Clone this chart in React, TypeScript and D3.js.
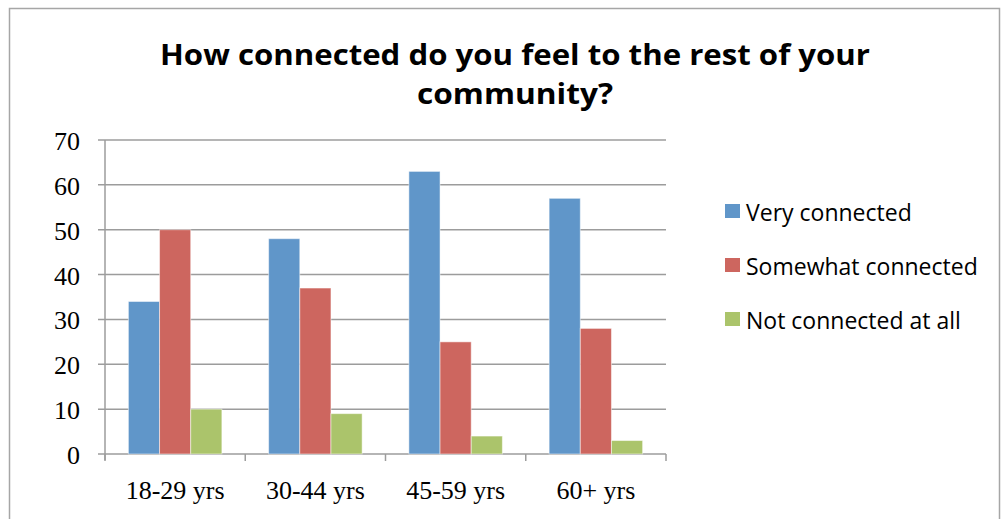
import React from "react";
import * as d3 from "d3";

const categories = ["18-29 yrs", "30-44 yrs", "45-59 yrs", "60+ yrs"];
const seriesNames = ["Very connected", "Somewhat connected", "Not connected at all"];
const veryConnected = [34, 48, 63, 57];
const somewhatConnected = [50, 37, 25, 28];
const notConnected = [10, 9, 4, 3];
const yTicks = [0, 10, 20, 30, 40, 50, 60, 70];
const titleLines = ["How connected do you feel to the rest of your", "community?"];

const seriesValues = [veryConnected, somewhatConnected, notConnected];
const colors = ["#6096c9", "#cd665f", "#abc46b"];

export default function App() {
  const W = 1003, H = 519;
  const left = 105, right = 666, top = 140, bottom = 454;
  const x0 = d3.scaleBand<string>().domain(categories).range([left, right]).paddingInner(0).paddingOuter(0);
  const bw = x0.bandwidth();
  const x1 = d3.scaleBand<string>().domain(seriesNames).range([bw * 0.75 / 4.5, bw - bw * 0.75 / 4.5]).padding(0);
  const y = d3.scaleLinear().domain([0, 70]).range([bottom, top]);
  const gridColor = "#9c9c9c";
  const boundaries = [...categories.map((c) => x0(c) as number), right];
  const titleLens = [710, 196];

  return (
    <svg width={W} height={H} style={{ position: "absolute", left: 0, top: 0 }}>
      <rect x={0} y={0} width={W} height={H} fill="#fff" />
      <rect x={9.5} y={8.5} width={990} height={520} fill="none" stroke="#a6a6a6" strokeWidth={1.5} />
      {titleLines.map((t, i) => (
        <text
          key={i}
          x={515}
          y={65 + i * 39}
          textAnchor="middle"
          fontFamily="'Open Sans', sans-serif"
          fontWeight={700}
          fontSize={28}
          textLength={titleLens[i]}
          lengthAdjust="spacingAndGlyphs"
          fill="#000"
        >
          {t}
        </text>
      ))}
      {yTicks.map((t) => (
        <g key={t}>
          <line x1={98} x2={right} y1={y(t)} y2={y(t)} stroke={gridColor} strokeWidth={1.5} />
          <text x={80} y={y(t) + 10} textAnchor="end" fontFamily="'Liberation Serif', serif" fontSize={26} fill="#000">
            {t}
          </text>
        </g>
      ))}
      <line x1={left} x2={left} y1={top} y2={bottom + 6} stroke={gridColor} strokeWidth={1.5} />
      {boundaries.map((b, i) => (
        <line key={i} x1={b} x2={b} y1={bottom} y2={bottom + 7} stroke={gridColor} strokeWidth={1.5} />
      ))}
      {categories.map((c, ci) => (
        <g key={c}>
          {seriesNames.map((s, si) => {
            const v = seriesValues[si][ci];
            return (
              <rect
                key={s}
                x={(x0(c) as number) + (x1(s) as number)}
                y={y(v)}
                width={x1.bandwidth()}
                height={y(0) - y(v)}
                fill={colors[si]}
                stroke="#ffffff"
                strokeOpacity={0.5}
                strokeWidth={1}
              />
            );
          })}
          <text x={(x0(c) as number) + bw / 2} y={499} textAnchor="middle" fontFamily="'Liberation Serif', serif" fontSize={26} fill="#000">
            {c}
          </text>
        </g>
      ))}
      {seriesNames.map((s, i) => (
        <g key={s}>
          <rect x={725} y={204 + i * 54} width={15} height={14} fill={colors[i]} />
          <text x={746} y={221 + i * 54} fontFamily="'Open Sans', sans-serif" fontSize={23} fill="#000">
            {s}
          </text>
        </g>
      ))}
    </svg>
  );
}
